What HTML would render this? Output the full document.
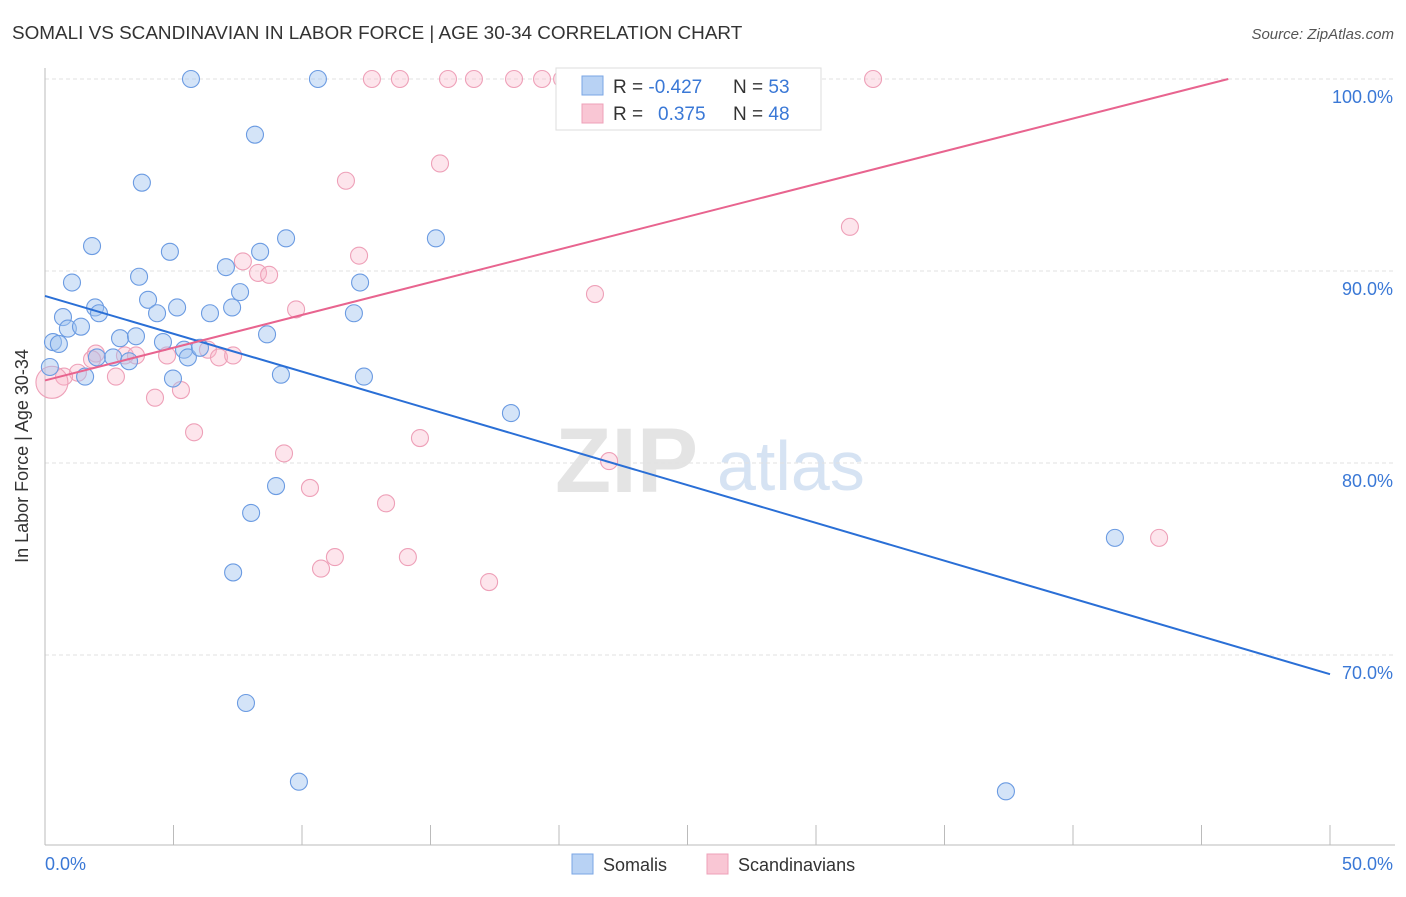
<!DOCTYPE html>
<html><head><meta charset="utf-8"><style>
body{margin:0;background:#fff;font-family:"Liberation Sans",sans-serif;}
svg text{font-family:"Liberation Sans",sans-serif;}
</style></head><body>
<svg id="chart" width="1406" height="892">
<text x="12" y="39" font-size="18.9" fill="#333">SOMALI VS SCANDINAVIAN IN LABOR FORCE | AGE 30-34 CORRELATION CHART</text>
<text x="1394" y="39" font-size="15" fill="#555" font-style="italic" text-anchor="end">Source: ZipAtlas.com</text>
<g><text x="555" y="492" font-size="92" fill="#e4e4e4" font-family="Liberation Serif" font-weight="bold">ZIP</text><text x="717" y="490" font-size="70" fill="#d6e3f3">atlas</text></g>
<g id="grid"></g>
<line x1="45" y1="68" x2="45" y2="845" stroke="#bbb"/>
<line x1="45" y1="845" x2="1395" y2="845" stroke="#bbb"/>
<text x="28" y="456" font-size="18" fill="#333" transform="rotate(-90 28 456)" text-anchor="middle">In Labor Force | Age 30-34</text>
<text x="45" y="870" font-size="18" fill="#3a78d6">0.0%</text>
<text x="1393" y="870" font-size="18" fill="#3a78d6" text-anchor="end">50.0%</text>
<g id="pts"></g>
<g id="lines"></g>
<g>
<rect x="556" y="68" width="265" height="62" fill="#fff" stroke="#ddd"/>
<rect x="582" y="76" width="21" height="19" fill="#b8d2f4" stroke="#7aa6e4"/>
<rect x="582" y="104" width="21" height="19" fill="#f9c6d4" stroke="#eea0b8"/>
<text x="613" y="93" font-size="19" fill="#333">R = <tspan fill="#3a78d6">-0.427</tspan></text>
<text x="733" y="93" font-size="19" fill="#333">N = <tspan fill="#3a78d6">53</tspan></text>
<text x="613" y="120" font-size="19" fill="#333">R = <tspan fill="#3a78d6" x="658">0.375</tspan></text>
<text x="733" y="120" font-size="19" fill="#333">N = <tspan fill="#3a78d6">48</tspan></text>
</g>
<g>
<rect x="572" y="854" width="21" height="20" fill="#b8d2f4" stroke="#7aa6e4"/>
<text x="603" y="871" font-size="18" fill="#333">Somalis</text>
<rect x="707" y="854" width="21" height="20" fill="#f9c6d4" stroke="#eea0b8"/>
<text x="738" y="871" font-size="18" fill="#333">Scandinavians</text>
</g>
</svg>
<script>
const yTicks=[100,90,80,70];
const xTickVals=[0,5,10,15,20,25,30,35,40,45,50];
const somaliX=[5.68,10.62,8.17,3.77,1.83,4.86,9.38,8.37,15.21,1.05,3.66,7.04,7.59,4.01,1.95,2.1,5.14,4.36,6.42,7.28,12.26,12.02,0.70,0.89,1.40,0.31,0.54,2.92,3.54,8.64,4.59,5.41,5.56,6.03,2.02,2.65,3.27,1.56,4.98,9.18,12.41,0.19,18.13,8.99,8.02,7.32,7.82,9.88,41.63,37.39];
const somaliY=[100,100,97.1,94.6,91.3,91.0,91.7,91.0,91.7,89.4,89.7,90.2,88.9,88.5,88.1,87.8,88.1,87.8,87.8,88.1,89.4,87.8,87.6,87.0,87.1,86.3,86.2,86.5,86.6,86.7,86.3,85.9,85.5,86.0,85.5,85.5,85.3,84.5,84.4,84.6,84.5,85.0,82.6,78.8,77.4,74.3,67.5,63.4,76.1,62.9];
const scandX=[12.72,13.81,15.68,16.69,18.25,19.34,20.12,22.68,23.93,25.1,26.03,32.22,11.71,15.37,31.32,12.22,7.7,8.29,8.72,21.4,9.77,1.98,3.11,3.54,4.75,6.34,6.77,7.32,1.83,1.28,0.74,2.76,0.27,4.28,5.29,5.8,14.59,9.3,21.95,10.31,13.27,11.28,10.74,14.12,17.28,43.35];
const scandY=[100,100,100,100,100,100,100,100,100,100,100,100,94.7,95.6,92.3,90.8,90.5,89.9,89.8,88.8,88.0,85.7,85.6,85.6,85.6,85.9,85.5,85.6,85.4,84.7,84.5,84.5,84.2,83.4,83.8,81.6,81.3,80.5,80.1,78.7,77.9,75.1,74.5,75.1,73.8,76.1];
const somaliTrend=[88.7,69.0];
const scandTrend=[84.3,101.35];
const NS='http://www.w3.org/2000/svg';
const sx=v=>45+v*25.7, sy=v=>79+(100-v)*19.2;
function mk(t,a,p){const e=document.createElementNS(NS,t);for(const k in a)e.setAttribute(k,a[k]);p.appendChild(e);return e;}
const grid=document.getElementById('grid');
yTicks.forEach(v=>{
 const l=mk('line',{x1:45,x2:1395,y1:sy(v),y2:sy(v),stroke:'#e2e2e2','stroke-dasharray':'4,3'},grid);
 
 
 const t=mk('text',{x:1393,y:sy(v)+24,'font-size':18,fill:'#3a78d6','text-anchor':'end'},grid);
 t.textContent=v.toFixed(1)+'%';
 
 
});
xTickVals.forEach(v=>{
 const l=mk('line',{x1:sx(v),x2:sx(v),y1:825,y2:845,stroke:'#bbb'},grid);
 
 
});
const pts=document.getElementById('pts');
scandX.forEach((x,i)=>{
 const c=mk('circle',{cx:sx(x),cy:sy(scandY[i]),r:(i==32?16:8.5),fill:'rgba(248,180,200,0.35)',stroke:'#eea0b8','stroke-width':1.1},pts);
 
 
});
somaliX.forEach((x,i)=>{
 const c=mk('circle',{cx:sx(x),cy:sy(somaliY[i]),r:8.5,fill:'rgba(160,196,240,0.45)',stroke:'#6b9be2','stroke-width':1.1},pts);
 
 
});
const lines=document.getElementById('lines');
const bl=mk('line',{x1:sx(0),y1:sy(somaliTrend[0]),x2:sx(50),y2:sy(somaliTrend[1]),stroke:'#2a6fd6','stroke-width':2},lines);


const m=(scandTrend[1]-scandTrend[0])/50;
const xe=Math.min(50,(100-scandTrend[0])/m);
const pl=mk('line',{x1:sx(0),y1:sy(scandTrend[0]),x2:sx(xe),y2:sy(scandTrend[0]+m*xe),stroke:'#e8648f','stroke-width':2},lines);


</script>
</body></html>
